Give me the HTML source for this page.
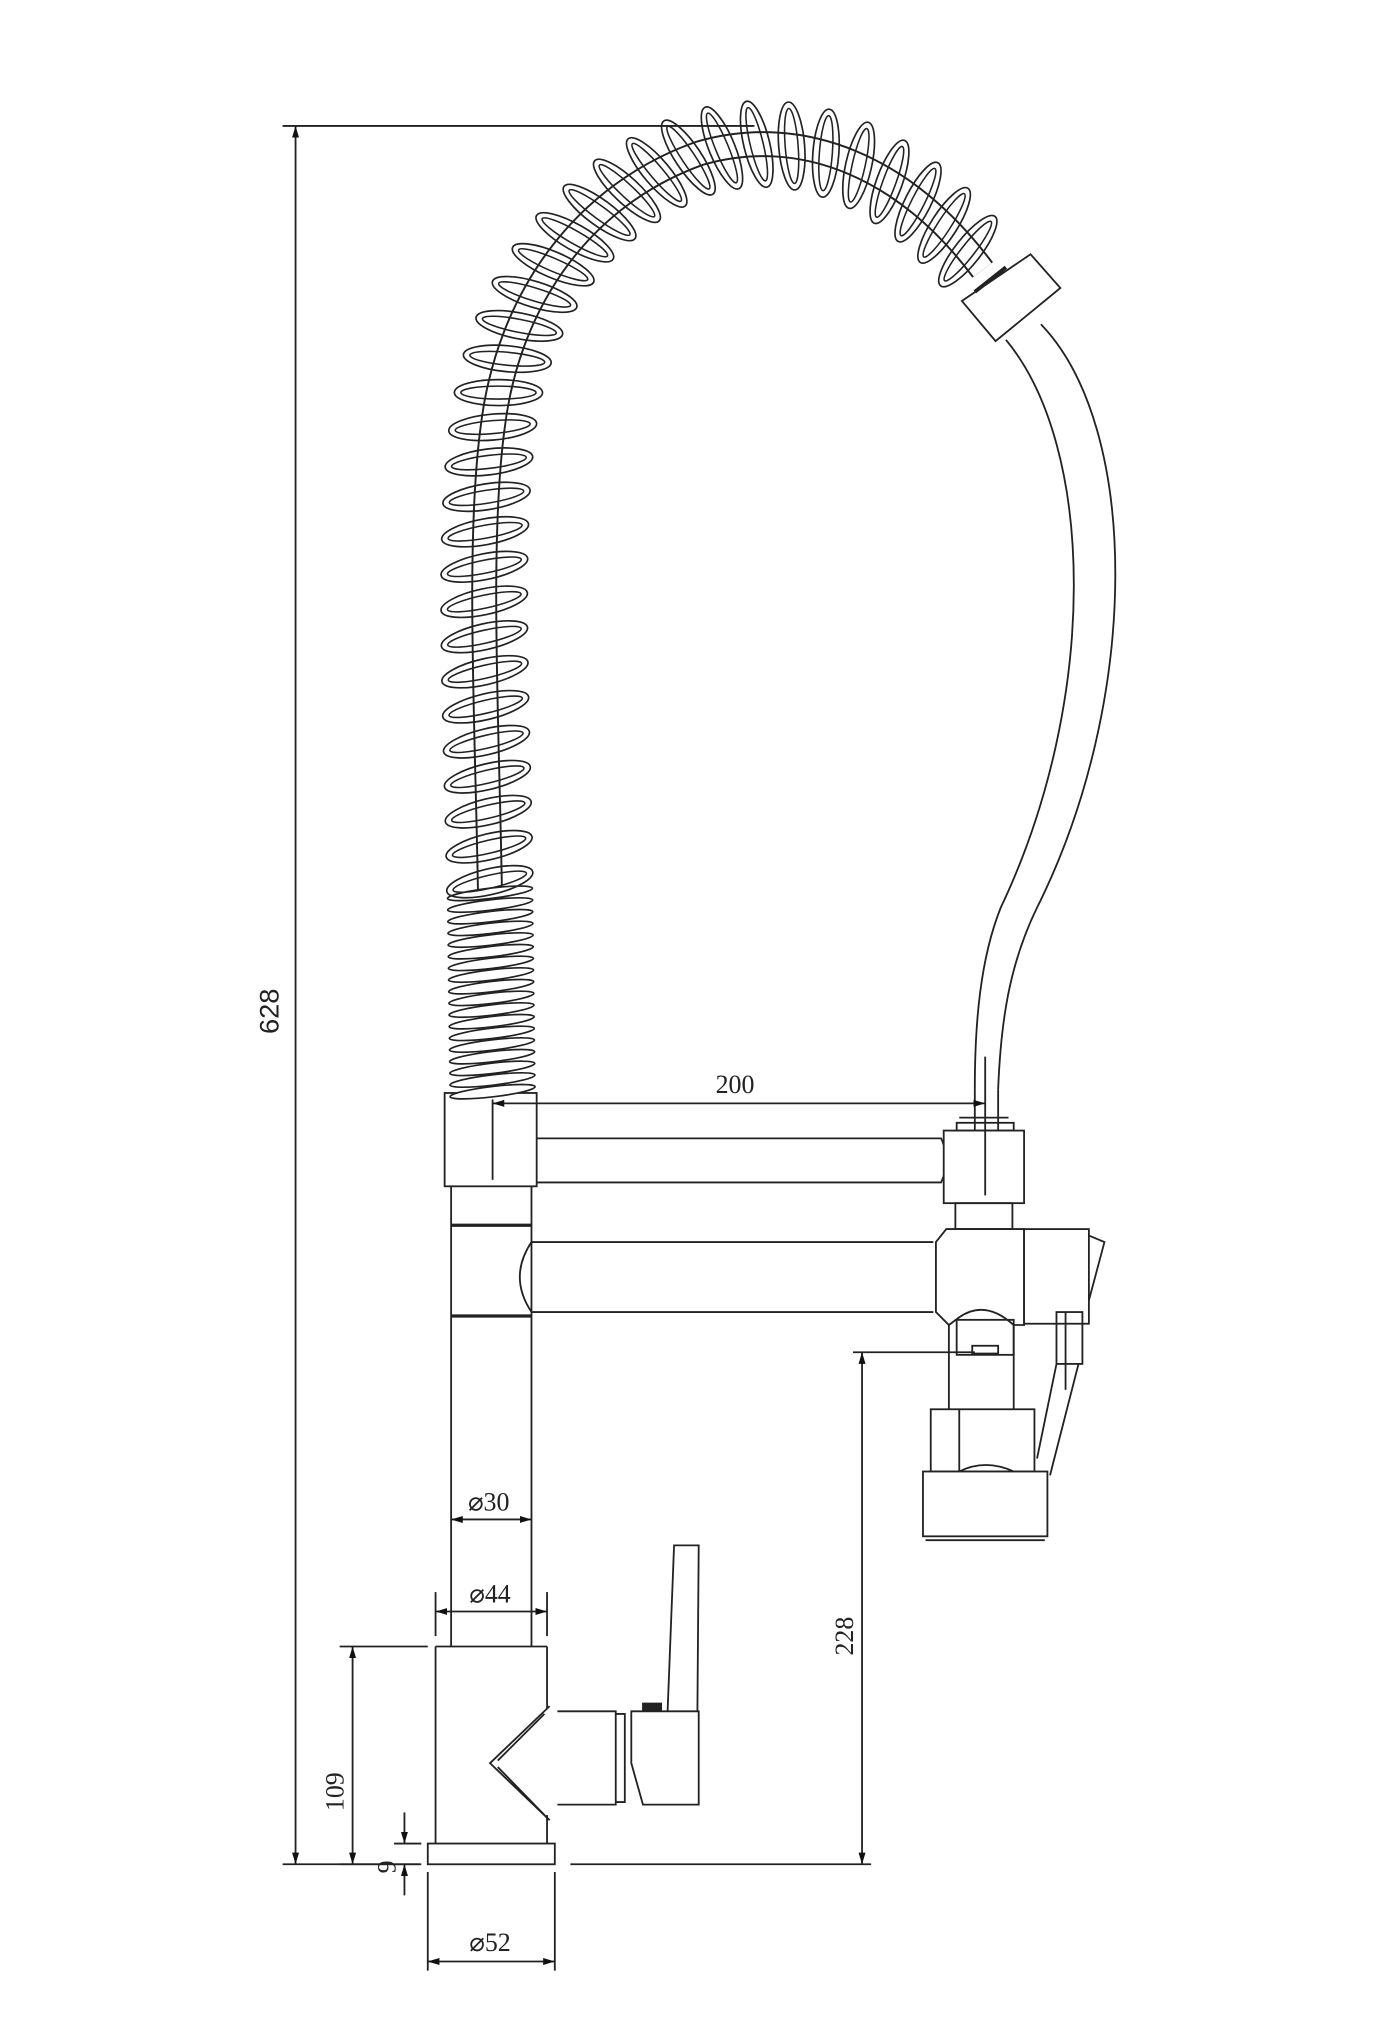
<!DOCTYPE html>
<html><head><meta charset="utf-8">
<style>
html,body{margin:0;padding:0;background:#fff;}
svg{display:block;}
text{font-family:"Liberation Serif",serif;fill:#222;}
</style></head>
<body>
<svg id="s" width="1400" height="2033" viewBox="0 0 1080 1568" xmlns="http://www.w3.org/2000/svg">
<defs>
<marker id="a" viewBox="0 0 10 10" refX="10" refY="5" markerWidth="9" markerHeight="9" orient="auto-start-reverse" markerUnits="userSpaceOnUse"><path d="M0,2 L10,5 L0,8 z" fill="#111"/></marker>
</defs>
<g stroke="#222" stroke-width="1.4" fill="none">
<!-- 628 dim -->
<line x1="218" y1="97" x2="582" y2="97"/>
<line x1="228" y1="97" x2="228" y2="1438" marker-start="url(#a)" marker-end="url(#a)"/>
<!-- baseline -->
<line x1="218" y1="1438" x2="324" y2="1438"/>
<line x1="440" y1="1438" x2="672" y2="1438"/>

<!-- hose (right) -->
<path d="M803,250 C880,330 880,540 800,700 C778,745 772,790 770,840"/>
<path d="M776,262 C845,345 848,540 772,700 C756,740 752,790 752,840"/>
<!-- spray head -->
<polygon points="742,232 795,196 818,222 768,263" fill="#fff"/>
<line x1="752" y1="225" x2="776" y2="206" stroke-width="3"/>
<!-- nipple -->
<line x1="752" y1="840" x2="752" y2="872"/>
<line x1="770" y1="840" x2="770" y2="872"/>
<line x1="740" y1="862" x2="778" y2="862"/>
<rect x="738" y="866" width="44" height="6"/>

<!-- upper block -->
<rect x="343" y="843" width="71" height="72" fill="#fff"/>
<line x1="380" y1="848" x2="380" y2="910"/>
<!-- upper arm -->
<path d="M414,878 L726,878 Q734,895 726,912 L414,912"/>
<!-- right upper block -->
<rect x="728" y="872" width="62" height="56" fill="#fff"/>
<line x1="760" y1="815" x2="760" y2="922"/>
<!-- 200 dim -->
<line x1="380" y1="851" x2="760" y2="851" marker-start="url(#a)" marker-end="url(#a)"/>

<!-- neck -->
<line x1="348" y1="915" x2="348" y2="1270"/>
<line x1="410" y1="915" x2="410" y2="1270"/>
<line x1="348" y1="945" x2="410" y2="945" stroke-width="2.5"/>
<line x1="348" y1="1015" x2="410" y2="1015" stroke-width="2.5"/>
<!-- lower arm -->
<path d="M410,958 L720,958 M410,1012 L720,1012 M410,958 Q392,985 410,1012"/>
<!-- collar between blocks -->
<rect x="737" y="928" width="44" height="20"/>
<!-- right body -->
<path d="M722,958 L730,948 L790,948 L790,1022 L782,1022 Q760,1002 740,1016 L732,1022 L722,1012 Z" fill="#fff"/>
<rect x="790" y="948" width="50" height="73" fill="#fff"/>
<path d="M840,953 L852,958 L840,1003"/>
<!-- cylinder under -->
<rect x="738" y="1018" width="44" height="27"/>
<rect x="750" y="1038" width="20" height="6"/>
<line x1="732" y1="1022" x2="732" y2="1087"/>
<line x1="782" y1="1022" x2="782" y2="1087"/>
<!-- lever -->
<rect x="815" y="1012" width="20" height="40"/>
<path d="M815,1052 L800,1125 M832,1052 L810,1138"/>
<line x1="822" y1="1012" x2="822" y2="1072"/>
<!-- nut + spray bottom -->
<rect x="718" y="1087" width="80" height="48" fill="#fff"/>
<line x1="740" y1="1087" x2="740" y2="1135"/>
<path d="M740,1135 Q760,1125 782,1135"/>
<rect x="712" y="1135" width="96" height="50" fill="#fff"/>
<line x1="714" y1="1188" x2="806" y2="1188"/>
<!-- 228 dim -->
<line x1="658" y1="1043" x2="752" y2="1043"/>
<line x1="665" y1="1043" x2="665" y2="1438" marker-start="url(#a)" marker-end="url(#a)"/>

<!-- lower body -->
<line x1="336" y1="1270" x2="422" y2="1270"/>
<line x1="336" y1="1270" x2="336" y2="1422"/>
<line x1="422" y1="1270" x2="422" y2="1318"/>
<line x1="422" y1="1400" x2="422" y2="1422"/>
<path d="M424,1316 L378,1360 L424,1404"/>
<path d="M420,1322 L384,1358 M384,1363 L420,1400"/>
<path d="M430,1320 L475,1320 L475,1392 L430,1392"/>
<path d="M475,1322 L482,1322 L482,1390 L475,1390"/>
<path d="M487,1320 L539,1320 L539,1392 L496,1392 L487,1360 Z" fill="#fff"/>
<path d="M515,1320 L520,1192 L539,1192 L538,1320"/>
<rect x="496" y="1314" width="14" height="5" fill="#222"/>
<rect x="330" y="1422" width="98" height="16"/>
<!-- 109 -->
<line x1="262" y1="1270" x2="330" y2="1270"/>
<line x1="272" y1="1270" x2="272" y2="1438" marker-start="url(#a)" marker-end="url(#a)"/>
<line x1="262" y1="1438" x2="325" y2="1438"/>
<!-- 9 -->
<line x1="304" y1="1422" x2="325" y2="1422"/>
<line x1="312" y1="1398" x2="312" y2="1422" marker-end="url(#a)"/>
<line x1="312" y1="1462" x2="312" y2="1438" marker-end="url(#a)"/>
<!-- ø52 -->
<line x1="330" y1="1444" x2="330" y2="1520"/>
<line x1="428" y1="1444" x2="428" y2="1520"/>
<line x1="330" y1="1513" x2="428" y2="1513" marker-start="url(#a)" marker-end="url(#a)"/>
<!-- ø44 -->
<line x1="336" y1="1228" x2="336" y2="1262"/>
<line x1="422" y1="1228" x2="422" y2="1262"/>
<line x1="336" y1="1243" x2="422" y2="1243" marker-start="url(#a)" marker-end="url(#a)"/>
<!-- ø30 -->
<line x1="348" y1="1172" x2="410" y2="1172" marker-start="url(#a)" marker-end="url(#a)"/>
</g>
<g id="coils"></g>
<path id="spine" d="M380,842 L378,690 C376,560 368,420 380,330 C392,230 450,150 540,118 C620,95 700,130 758,208" fill="none" stroke="none"/>
<text x="567" y="843" font-size="20" text-anchor="middle">200</text>
<text x="377" y="1165" font-size="20" text-anchor="middle">⌀30</text>
<text x="378" y="1236" font-size="20" text-anchor="middle">⌀44</text>
<text x="378" y="1505" font-size="20" text-anchor="middle">⌀52</text>
<text transform="translate(215,780) rotate(-90)" font-size="21" text-anchor="middle" style="font-family:'Liberation Sans',sans-serif">628</text>
<text transform="translate(265,1382) rotate(-90)" font-size="20" text-anchor="middle">109</text>
<text transform="translate(305,1440) rotate(-90)" font-size="20" text-anchor="middle">9</text>
<text transform="translate(658,1262) rotate(-90)" font-size="20" text-anchor="middle">228</text>
</svg>
<script>
(function(){
var ns="http://www.w3.org/2000/svg";
var sp=document.getElementById('spine'),g=document.getElementById('coils');
var L=sp.getTotalLength();
function el(n,a){var e=document.createElementNS(ns,n);for(var k in a)e.setAttribute(k,a[k]);return e;}
// hose tube
g.appendChild(el('use',{}));
var d=sp.getAttribute('d');
g.appendChild(el('path',{d:d,fill:'none',stroke:'#222','stroke-width':20}));
g.appendChild(el('path',{d:d,fill:'none',stroke:'#fff','stroke-width':17}));
var s=0;
while(s<L-8){
  var p=sp.getPointAtLength(s),q=sp.getPointAtLength(Math.min(L,s+1));
  var ang=Math.atan2(q.y-p.y,q.x-p.x)*180/Math.PI+90;
  var dense=p.y>688&&p.x<420;
  var rx=dense?33:34, ry=dense?4:10;
  var gr=el('g',{transform:'translate('+p.x+','+p.y+') rotate('+(ang+ (dense?-6:-12))+')'});
  if(dense){
    gr.appendChild(el('ellipse',{cx:0,cy:0,rx:rx,ry:ry,fill:'#fff',stroke:'#222','stroke-width':1.3}));
  } else {
    gr.appendChild(el('ellipse',{cx:0,cy:0,rx:rx,ry:ry,fill:'none',stroke:'#222','stroke-width':1.3}));
    gr.appendChild(el('ellipse',{cx:0,cy:0,rx:rx-5,ry:ry-5,fill:'none',stroke:'#222','stroke-width':1.2}));
  }
  g.appendChild(gr);
  s+= dense?9:27;
}
})();
</script>
</body></html>
